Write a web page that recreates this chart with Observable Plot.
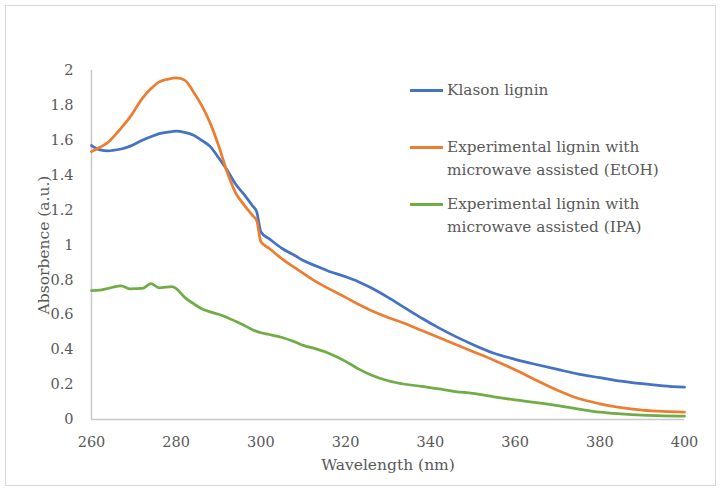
<!DOCTYPE html>
<html>
<head>
<meta charset="utf-8">
<script src="https://cdn.jsdelivr.net/npm/d3@7"></script>
<script src="https://cdn.jsdelivr.net/npm/@observablehq/plot@0.6"></script>
<style>
  html, body { margin: 0; padding: 0; background: #fff; }
  #wrap { position: relative; width: 721px; height: 491px; overflow: hidden; }
  #border { position: absolute; left: 5px; top: 5px; width: 711px; height: 481px; border: 1px solid #d9d9d9; box-sizing: border-box; }
  #chart { position: absolute; left: 0; top: 0; }
  #chart g[aria-label="x-axis label"] text, #chart g[aria-label="y-axis label"] text { font-size: 15.5px; }
  #legend { position: absolute; left: 410px; top: 0; font-family: "DejaVu Serif", "Liberation Serif", "Noto Serif", serif; font-size: 15.3px; color: #595959; }
  .item { position: absolute; left: 0; white-space: nowrap; }
  .swatch { position: absolute; left: 0; width: 33px; height: 3px; }
  .txt { position: absolute; left: 37px; line-height: 23px; }
</style>
</head>
<body>
<div id="wrap">
  <div id="border"></div>
  <div id="chart"></div>
  <div id="legend"></div>
</div>
<script>
const wavelengths = [260,262,264,265,267,269,272,274,276,279,280,282,284,286,288,290,292,294,296,298,299,300,302,305,308,310,313,316,320,323,326,330,334,338,342,346,350,355,360,365,370,375,380,385,390,395,400];

const klason = [1.57,1.545,1.54,1.542,1.55,1.565,1.60,1.62,1.638,1.65,1.652,1.645,1.63,1.60,1.565,1.50,1.43,1.35,1.29,1.225,1.19,1.075,1.035,0.98,0.94,0.911,0.88,0.85,0.818,0.79,0.755,0.70,0.64,0.58,0.525,0.475,0.43,0.38,0.345,0.315,0.287,0.26,0.24,0.22,0.205,0.193,0.185];

const etoh = [1.535,1.56,1.59,1.615,1.67,1.73,1.84,1.895,1.935,1.955,1.958,1.945,1.88,1.80,1.70,1.57,1.42,1.30,1.23,1.17,1.14,1.018,0.98,0.92,0.87,0.837,0.79,0.75,0.70,0.66,0.625,0.585,0.55,0.51,0.47,0.43,0.39,0.34,0.285,0.225,0.168,0.12,0.09,0.068,0.054,0.046,0.042];

const ipa = [0.739,0.742,0.752,0.758,0.766,0.749,0.751,0.778,0.755,0.762,0.75,0.70,0.665,0.635,0.617,0.603,0.585,0.563,0.54,0.515,0.505,0.497,0.487,0.47,0.445,0.425,0.405,0.38,0.333,0.29,0.255,0.222,0.202,0.19,0.175,0.16,0.15,0.13,0.112,0.097,0.08,0.06,0.042,0.032,0.025,0.021,0.019];

const seriesNames = ["Klason lignin", "Experimental lignin with microwave assisted (EtOH)", "Experimental lignin with microwave assisted (IPA)"];
const legendLines = [["Klason lignin"], ["Experimental lignin with", "microwave assisted (EtOH)"], ["Experimental lignin with", "microwave assisted (IPA)"]];
const seriesColors = ["#4472C4", "#ED7D31", "#70AD47"];
const xTicks = [260, 280, 300, 320, 340, 360, 380, 400];
const yTicks = [0, 0.2, 0.4, 0.6, 0.8, 1, 1.2, 1.4, 1.6, 1.8, 2];

const allValues = [klason, etoh, ipa];
const rows = [];
allValues.forEach((vals, s) => {
  vals.forEach((v, i) => rows.push({series: seriesNames[s], x: wavelengths[i], y: v}));
});

const textColor = "#595959";
const fontFam = "DejaVu Serif, Liberation Serif, Noto Serif, serif";

const plot = Plot.plot({
  width: 721,
  height: 491,
  marginLeft: 91,
  marginRight: 37,
  marginTop: 70,
  marginBottom: 72,
  style: {fontFamily: fontFam, fontSize: "14.5px", color: textColor, background: "transparent"},
  x: {domain: [260, 400], ticks: xTicks, tickFormat: d => String(d)},
  y: {domain: [0, 2], ticks: yTicks, tickFormat: d => String(d)},
  color: {domain: seriesNames, range: seriesColors},
  marks: [
    Plot.ruleX([260], {stroke: "#c8c8c8", strokeWidth: 1.5}),
    Plot.ruleY([0], {stroke: "#c8c8c8", strokeWidth: 1.5}),
    Plot.axisX({ticks: xTicks, tickSize: 0, tickPadding: 17, tickFormat: d => String(d), label: "Wavelength (nm)", labelAnchor: "center", labelArrow: "none", labelOffset: 50, fill: textColor}),
    Plot.axisY({ticks: yTicks, tickSize: 0, tickPadding: 18, tickFormat: d => String(d), label: "Absorbence (a.u.)", labelAnchor: "center", labelArrow: "none", labelOffset: 54, fill: textColor}),
    Plot.line(rows, {x: "x", y: "y", z: "series", stroke: "series", strokeWidth: 2.75, curve: "monotone-x"})
  ]
});
document.getElementById("chart").appendChild(plot);

// legend
const legend = document.getElementById("legend");
const swatchY = [90, 147, 204];
seriesNames.forEach((name, i) => {
  const item = document.createElement("div");
  item.className = "item";
  item.style.top = (swatchY[i] - 11.5) + "px";
  const sw = document.createElement("div");
  sw.className = "swatch";
  sw.style.background = seriesColors[i];
  sw.style.top = "10px";
  item.appendChild(sw);
  const t = document.createElement("div");
  t.className = "txt";
  t.innerHTML = legendLines[i].join("<br>");
  item.appendChild(t);
  legend.appendChild(item);
});
</script>
</body>
</html>
